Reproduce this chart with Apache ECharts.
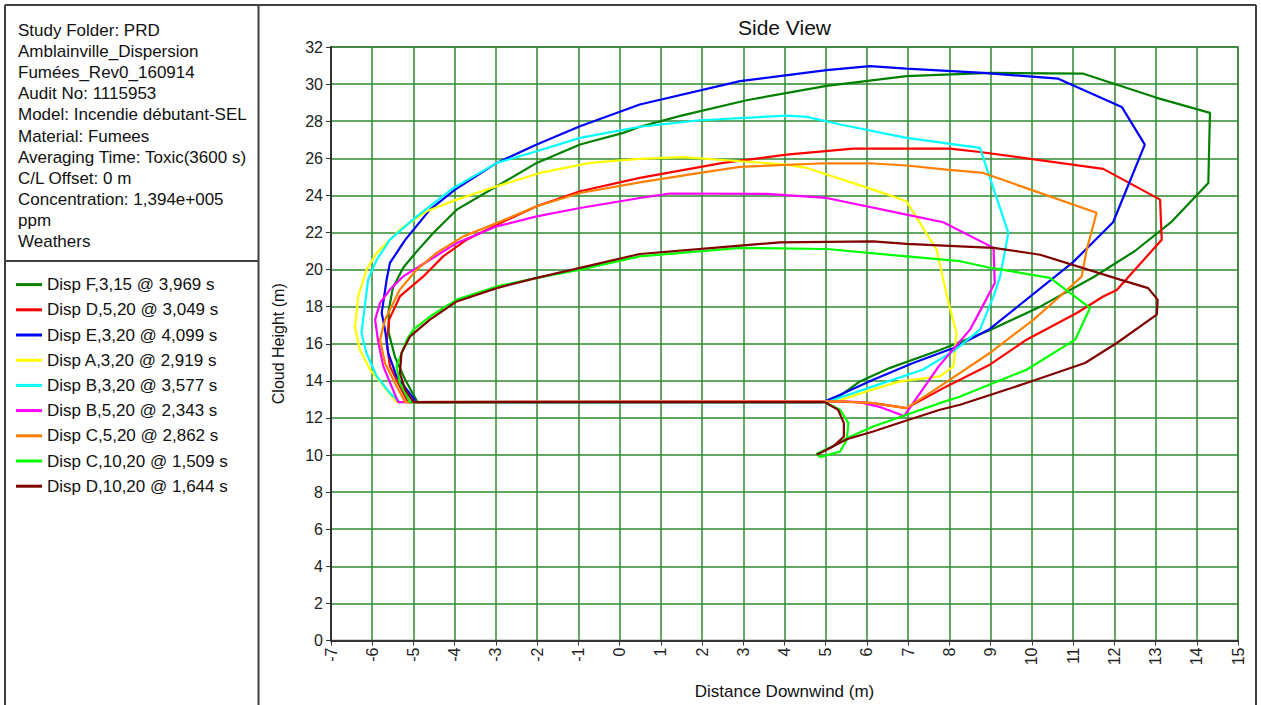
<!DOCTYPE html>
<html>
<head>
<meta charset="utf-8">
<script src="https://cdn.jsdelivr.net/npm/echarts@6/dist/echarts.min.js"></script>
<style>
html,body{margin:0;padding:0;background:#fff;}
#chart{width:1261px;height:705px;}
</style>
</head>
<body>
<div id="chart"></div>
<script>
// ---------- data ----------
const infoLines = [
  'Study Folder: PRD',
  'Amblainville_Dispersion',
  'Fumées_Rev0_160914',
  'Audit No: 1115953',
  'Model: Incendie débutant-SEL',
  'Material: Fumees',
  'Averaging Time: Toxic(3600 s)',
  'C/L Offset: 0 m',
  'Concentration: 1,394e+005',
  'ppm',
  'Weathers'
];
const seriesNames = [
  'Disp F,3,15 @ 3,969 s',
  'Disp D,5,20 @ 3,049 s',
  'Disp E,3,20 @ 4,099 s',
  'Disp A,3,20 @ 2,919 s',
  'Disp B,3,20 @ 3,577 s',
  'Disp B,5,20 @ 2,343 s',
  'Disp C,5,20 @ 2,862 s',
  'Disp C,10,20 @ 1,509 s',
  'Disp D,10,20 @ 1,644 s'
];
const xTitle = 'Distance Downwind (m)';
const yTitle = 'Cloud Height (m)';
const chartTitle = 'Side View';

const dispF_3_15 = [[4.93,12.85],[5.35,13.2],[5.83,13.97],[6.56,14.7],[7.77,15.66],[8.95,16.7],[10.2,18.0],[11.5,19.6],[12.5,21.0],[13.4,22.6],[14.28,24.67],[14.32,28.45],[13.03,29.26],[11.25,30.56],[8.98,30.6],[6.96,30.43],[5.02,29.9],[3.08,29.13],[1.5,28.3],[0.49,27.7],[0.09,27.37],[-0.96,26.74],[-2.01,25.75],[-2.98,24.49],[-3.95,23.23],[-4.52,21.97],[-4.95,20.9],[-5.25,20.1],[-5.5,19.0],[-5.6,17.8],[-5.6,16.6],[-5.45,15.3],[-5.2,14.06],[-4.9,12.85]];
const dispD_5_20 = [[5.27,12.9],[6.15,12.8],[6.96,12.53],[7.93,13.7],[8.98,14.87],[9.87,16.22],[11.09,17.66],[11.73,18.55],[12.06,18.9],[13.15,21.61],[13.11,23.77],[11.73,25.43],[8.74,26.34],[8.01,26.52],[5.67,26.52],[4.05,26.2],[2.51,25.75],[0.49,24.94],[-0.96,24.22],[-2.01,23.41],[-2.98,22.42],[-3.71,21.61],[-4.28,20.71],[-4.76,19.63],[-5.33,18.55],[-5.59,17.3],[-5.65,16.04],[-5.57,14.78],[-5.33,13.7],[-5.13,12.85]];
const dispE_3_20 = [[4.93,12.85],[5.35,13.25],[6.15,14.06],[7.12,14.96],[8.1,15.77],[8.98,16.8],[11.0,20.4],[11.97,22.55],[12.74,26.74],[12.18,28.77],[10.64,30.29],[8.82,30.6],[6.96,30.83],[6.07,30.97],[5.02,30.75],[2.92,30.16],[0.49,28.9],[-0.96,27.73],[-2.01,26.74],[-2.98,25.75],[-3.99,24.31],[-4.6,23.23],[-5.2,21.6],[-5.57,20.36],[-5.65,19.46],[-5.77,17.66],[-5.69,16.76],[-5.61,15.5],[-5.41,14.24],[-5.0,13.07],[-4.95,12.85]];
const dispA_3_20 = [[5.27,12.9],[5.99,13.43],[6.8,13.97],[7.77,14.24],[8.1,14.78],[8.17,16.58],[7.96,18.38],[7.69,21.07],[6.96,23.68],[6.15,24.31],[4.54,25.48],[4.05,25.66],[2.92,25.84],[1.54,26.06],[0.49,25.97],[-0.72,25.75],[-1.93,25.21],[-2.98,24.49],[-3.95,23.77],[-4.68,23.14],[-5.33,22.15],[-5.89,20.9],[-6.14,20.0],[-6.34,18.55],[-6.38,17.66],[-6.42,16.93],[-6.3,15.68],[-6.05,14.6],[-5.65,13.52],[-5.41,12.85]];
const dispB_3_20 = [[5.1,12.9],[5.35,13.1],[6.15,13.7],[7.35,14.6],[8.1,15.6],[8.74,16.76],[9.07,18.55],[9.23,19.63],[9.43,21.98],[8.74,26.56],[6.96,27.1],[5.35,27.82],[4.54,28.23],[4.05,28.3],[1.95,28.05],[0.49,27.7],[-0.96,27.1],[-2.01,26.38],[-2.98,25.75],[-4.03,24.4],[-4.92,22.87],[-5.57,21.61],[-5.89,20.53],[-6.1,19.46],[-6.2,17.66],[-6.26,16.58],[-6.14,15.5],[-5.89,14.24],[-5.57,13.34],[-5.33,12.85]];
const dispB_5_20 = [[5.27,12.9],[5.83,12.85],[6.3,12.6],[6.9,12.1],[7.74,14.78],[8.5,16.76],[8.89,18.38],[9.1,19.28],[9.07,21.17],[7.85,22.55],[6.96,22.96],[5.02,23.86],[3.57,24.08],[1.22,24.1],[0.49,23.86],[-0.96,23.32],[-2.01,22.87],[-2.98,22.33],[-3.95,21.43],[-4.6,20.53],[-5.25,19.63],[-5.57,18.92],[-5.81,18.2],[-5.93,17.3],[-5.85,16.04],[-5.73,14.78],[-5.53,13.7],[-5.37,12.85]];
const dispC_5_20 = [[5.27,12.9],[6.15,12.8],[6.96,12.53],[7.77,13.7],[8.98,15.5],[10.04,17.3],[10.68,18.55],[11.21,19.63],[11.33,21.07],[11.57,23.06],[8.82,25.21],[7.93,25.39],[6.96,25.61],[6.15,25.72],[4.86,25.72],[2.92,25.54],[1.95,25.21],[0.49,24.7],[-0.96,24.13],[-2.01,23.41],[-2.98,22.51],[-3.79,21.79],[-4.44,20.9],[-4.92,20.0],[-5.33,18.92],[-5.69,17.3],[-5.81,16.22],[-5.69,14.96],[-5.45,13.88],[-5.2,12.85]];
const dispC_10_20 = [[4.98,12.85],[5.35,12.44],[5.55,11.72],[5.51,10.82],[5.35,10.19],[4.86,9.89],[4.78,10.07],[5.1,10.4],[5.51,10.91],[6.15,11.54],[6.96,12.17],[7.77,12.8],[8.26,13.16],[9.87,14.6],[11.05,16.22],[11.41,17.93],[10.44,19.55],[8.98,20.1],[8.26,20.45],[6.96,20.71],[5.02,21.11],[2.92,21.17],[0.49,20.71],[-0.96,20.0],[-2.01,19.55],[-2.98,19.09],[-3.95,18.38],[-4.6,17.47],[-5.0,16.76],[-5.16,16.22],[-5.41,14.78],[-5.33,13.88],[-5.08,12.85]];
const dispD_10_20 = [[4.98,12.85],[5.3,12.44],[5.44,11.72],[5.44,11.0],[5.18,10.46],[4.78,10.01],[4.9,10.15],[5.51,10.85],[6.15,11.27],[6.96,11.86],[7.77,12.44],[8.26,12.71],[9.87,13.88],[11.29,14.96],[12.06,16.04],[13.03,17.57],[13.05,18.38],[12.82,19.0],[12.14,19.46],[10.2,20.8],[9.07,21.17],[8.26,21.25],[6.96,21.38],[6.15,21.52],[3.89,21.47],[2.92,21.29],[0.49,20.84],[-0.96,20.09],[-2.01,19.55],[-2.98,19.0],[-3.95,18.28],[-4.6,17.3],[-5.08,16.4],[-5.29,15.5],[-5.33,14.42],[-5.2,13.52],[-5.0,12.85]];

const seriesData = [dispF_3_15, dispD_5_20, dispE_3_20, dispA_3_20, dispB_3_20, dispB_5_20, dispC_5_20, dispC_10_20, dispD_10_20];

// ---------- styles ----------
const seriesColors = ['#008000','#ff0000','#0000ff','#ffff00','#00ffff','#ff00ff','#ff8000','#00ff00','#800000'];
const FONT = '"Liberation Sans", Arial, sans-serif';
const BORDER = '#404040';

const chart = echarts.init(document.getElementById('chart'), null, {renderer: 'svg'});

const series = seriesData.map((d, i) => ({
  name: seriesNames[i],
  type: 'line',
  data: d.concat([d[0]]),
  showSymbol: false,
  symbol: 'none',
  smooth: false,
  animation: false,
  lineStyle: {color: seriesColors[i], width: 2.2},
  itemStyle: {color: seriesColors[i]},
  z: 3 + i
}));

const graphics = [
  {type: 'line', shape: {x1: 5, y1: 5, x2: 1256, y2: 5}, style: {stroke: BORDER, lineWidth: 2}, z: 10},
  {type: 'line', shape: {x1: 5, y1: 5, x2: 5, y2: 705}, style: {stroke: BORDER, lineWidth: 2}, z: 10},
  {type: 'line', shape: {x1: 258.5, y1: 5, x2: 258.5, y2: 705}, style: {stroke: BORDER, lineWidth: 2}, z: 10},
  {type: 'line', shape: {x1: 1256, y1: 5, x2: 1256, y2: 705}, style: {stroke: BORDER, lineWidth: 2}, z: 10},
  {type: 'line', shape: {x1: 5, y1: 261, x2: 258.5, y2: 261}, style: {stroke: BORDER, lineWidth: 2}, z: 10},
  {type: 'text', x: 18, y: 20, style: {text: infoLines.join('\n'), font: '17px ' + FONT, fill: '#111', lineHeight: 21.1}, z: 10},
  {type: 'text', x: 784.5, y: 27, style: {text: chartTitle, font: '21px ' + FONT, fill: '#111', textAlign: 'center', textVerticalAlign: 'middle'}, z: 10}
];

const option = {
  animation: false,
  backgroundColor: '#fff',
  textStyle: {fontFamily: FONT},
  graphic: graphics,
  legend: {
    orient: 'vertical',
    left: 16,
    top: 272,
    padding: 0,
    itemWidth: 26,
    itemHeight: 3,
    itemGap: 0,
    icon: 'rect',
    selectedMode: false,
    textStyle: {fontSize: 17, color: '#111', fontFamily: FONT, lineHeight: 25.2},
    data: seriesNames
  },
  grid: {left: 331, right: 23, top: 47, bottom: 64.5, show: true, borderColor: '#555', borderWidth: 1.5, backgroundColor: 'transparent'},
  xAxis: {
    type: 'value', min: -7, max: 15, interval: 1,
    name: xTitle, nameLocation: 'middle', nameGap: 42,
    nameTextStyle: {fontSize: 17, color: '#111', fontFamily: FONT},
    axisLine: {show: true, onZero: false, lineStyle: {color: '#333', width: 2}},
    axisTick: {show: true, length: 5, lineStyle: {color: '#333'}},
    axisLabel: {rotate: 90, fontSize: 16, color: '#222', margin: 7, showMinLabel: true, showMaxLabel: true, fontFamily: FONT},
    splitLine: {show: true, lineStyle: {color: '#2e8b2e', width: 1.5}}
  },
  yAxis: {
    type: 'value', min: 0, max: 32, interval: 2,
    name: yTitle, nameLocation: 'middle', nameGap: 45,
    nameTextStyle: {fontSize: 16, color: '#111', fontFamily: FONT},
    axisLine: {show: true, onZero: false, lineStyle: {color: '#333', width: 2}},
    axisTick: {show: true, length: 5, lineStyle: {color: '#333'}},
    axisLabel: {fontSize: 16, color: '#222', margin: 8, showMinLabel: true, showMaxLabel: true, fontFamily: FONT},
    splitLine: {show: true, lineStyle: {color: '#2e8b2e', width: 1.5}}
  },
  series: series
};
chart.setOption(option);
</script>
</body>
</html>
